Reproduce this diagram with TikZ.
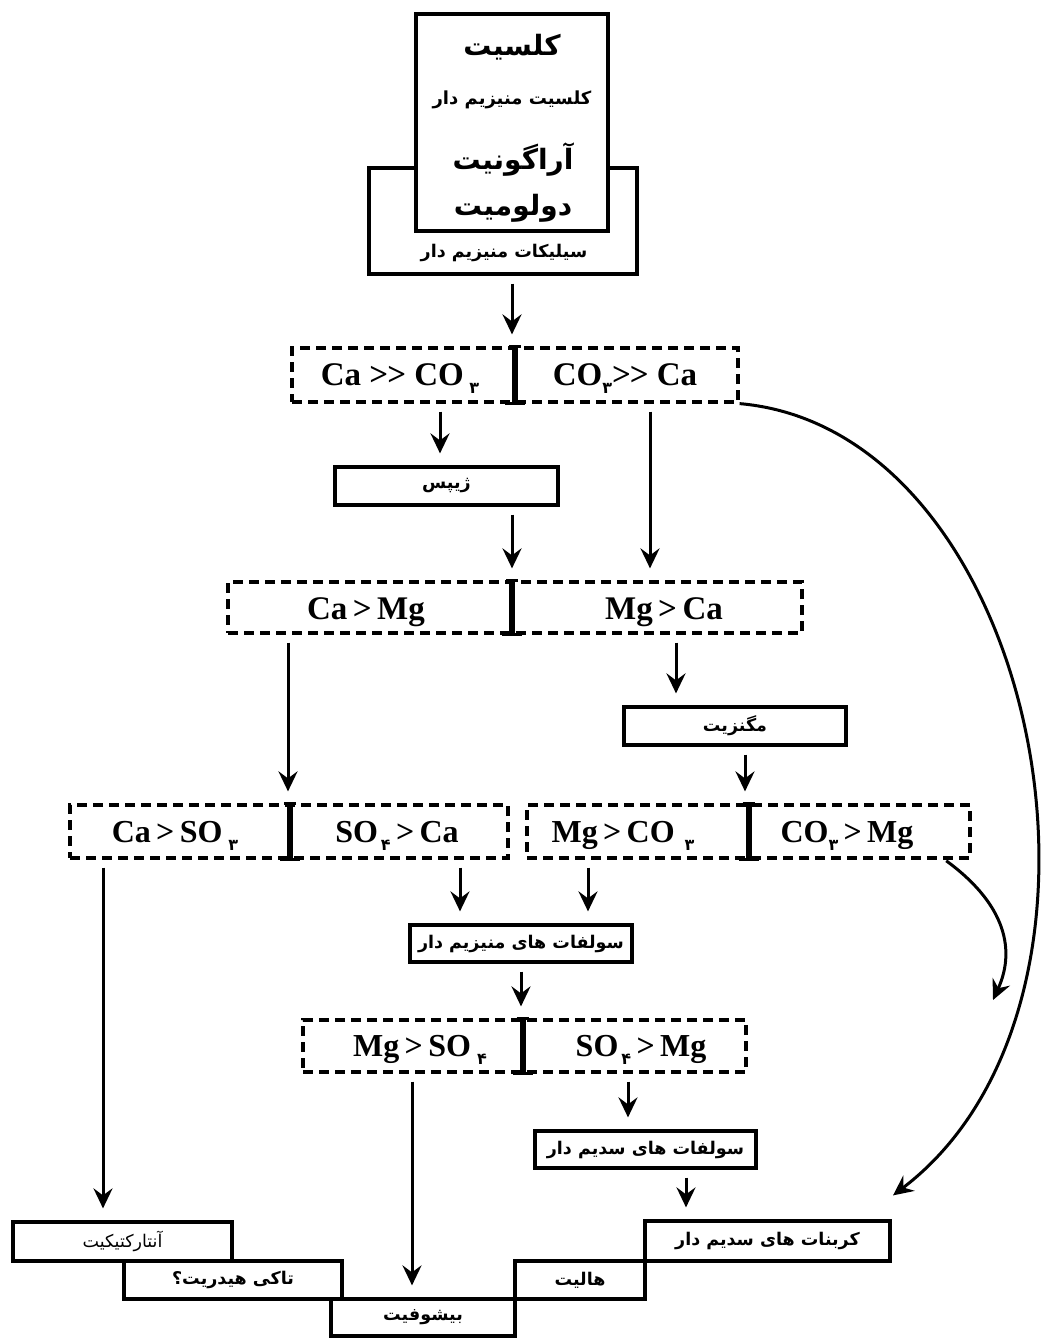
\documentclass[tikz,border=0pt]{standalone}
\usepackage{fontspec}
\setmainfont{Liberation Serif}
\newfontfamily\fa[Script=Arabic]{DejaVu Sans}
\TeXXeTstate=1
\usetikzlibrary{arrows.meta,calc}
\newcommand{\pdig}[1]{\raisebox{-8pt}{\fa\fontsize{16}{16}\selectfont #1}}
\newcommand{\gtgt}{>\kern-1pt>}
\begin{document}
\begin{tikzpicture}[x=1pt,y=-1pt,
  box/.style={draw, line width=3.2pt, inner sep=0pt, fill=white},
  dbox/.style={draw, dash pattern=on 10pt off 6pt, line width=3.2pt, inner sep=0pt},
  arr/.style={-{Stealth[length=20pt,width=19pt,inset=7pt]}, line width=3pt, shorten <=8pt, shorten >=12pt},
  divbar/.style={line width=6pt},
  divser/.style={line width=3pt},
  fml/.style={inner sep=0pt, anchor=base, font=\bfseries\fontsize{32}{32}\selectfont},
  fab/.style={inner sep=0pt, font=\fa\bfseries\fontsize{17.5}{20}\selectfont},
  fabig/.style={inner sep=0pt, font=\fa\bfseries\fontsize{28}{30}\selectfont},
  fareg/.style={inner sep=0pt, font=\fa\fontsize{17.5}{20}\selectfont}]
\useasboundingbox (0,0) rectangle (1043,1338);
\fill[white] (0,0) rectangle (1043,1338);

% top group
\node[box, minimum width=268pt, minimum height=106pt] (sil) at (503,221) {};
\node[fab] (siltxt) at (504,253) {\beginR سیلیکات منیزیم دار\endR};
\node[box, minimum width=192pt, minimum height=217pt] (top) at (512,122.5) {};
\node[fabig] (t1) at (512,47) {\beginR کلسیت\endR};
\node[fab, font=\fa\bfseries\fontsize{18}{20}\selectfont] (t2) at (512,100) {\beginR کلسیت منیزیم دار\endR};
\node[fabig] (t3) at (513,160) {\beginR آراگونیت\endR};
\node[fabig] (t4) at (513,208) {\beginR دولومیت\endR};

% row 1
\node[dbox, minimum width=446pt, minimum height=54pt] (r1) at (515,375) {};
\node[fml, font=\bfseries\fontsize{33}{33}\selectfont] (r1a) at (400,385) {Ca \gtgt\ CO\,\pdig{۳}};
\node[fml, font=\bfseries\fontsize{33}{33}\selectfont] (r1b) at (625,385) {CO\pdig{۳}\gtgt\ Ca};
\draw[divbar] (r1.north) -- (r1.south);
\draw[divser] ([xshift=-6pt]r1.north) -- ([xshift=6pt]r1.north);
\draw[divser] ([xshift=-10pt]r1.south) -- ([xshift=10pt]r1.south);

\node[box, minimum width=223pt, minimum height=38pt] (gyp) at (446.5,486) {};
\node[fab] (gyptxt) at (446.5,486) {\beginR ژیپس\endR};

% row 2
\node[dbox, minimum width=574pt, minimum height=51pt] (r2) at (515,607.5) {};
\node[fml, font=\bfseries\fontsize{33}{33}\selectfont] (r2a) at (366,619) {Ca\,{}>\,{}Mg};
\node[fml, font=\bfseries\fontsize{33}{33}\selectfont] (r2b) at (664,619) {Mg\,{}>\,{}Ca};
\draw[divbar] ([xshift=-3pt]r2.north) -- ([xshift=-3pt]r2.south);
\draw[divser] ([xshift=-9pt]r2.north) -- ([xshift=3pt]r2.north);
\draw[divser] ([xshift=-13pt]r2.south) -- ([xshift=7pt]r2.south);

\node[box, minimum width=222pt, minimum height=38pt] (mag) at (735,726) {};
\node[fab] (magtxt) at (735,726) {\beginR مگنزیت\endR};

% row 3
\node[dbox, minimum width=438pt, minimum height=53pt] (r3l) at (289,831.5) {};
\node[fml] (r3a) at (175,842) {Ca\,{}>\,{}SO\kern6pt\pdig{۳}};
\node[fml] (r3b) at (397,842) {SO\kern3pt\pdig{۴}\,{}>\,{}Ca};
\draw[divbar] ([xshift=1pt]r3l.north) -- ([xshift=1pt]r3l.south);
\draw[divser] ([xshift=-5pt]r3l.north) -- ([xshift=7pt]r3l.north);
\draw[divser] ([xshift=-9pt]r3l.south) -- ([xshift=11pt]r3l.south);

\node[dbox, minimum width=443pt, minimum height=53pt] (r3r) at (748.5,831.5) {};
\node[fml] (r3c) at (623,842) {Mg\,{}>\,{}CO\kern10pt\pdig{۳}};
\node[fml] (r3d) at (847,842) {CO\pdig{۳}\,{}>\,{}Mg};
\draw[divbar] (r3r.north) -- (r3r.south);
\draw[divser] ([xshift=-6pt]r3r.north) -- ([xshift=6pt]r3r.north);
\draw[divser] ([xshift=-10pt]r3r.south) -- ([xshift=10pt]r3r.south);

\node[box, minimum width=222pt, minimum height=37pt] (mgs) at (521,943.5) {};
\node[fab] (mgstxt) at (521,943.5) {\beginR سولفات های منیزیم دار\endR};

% row 4
\node[dbox, minimum width=443pt, minimum height=52pt] (r4) at (524.5,1046) {};
\node[fml] (r4a) at (420,1056) {Mg\,{}>\,{}SO\kern6pt\pdig{۴}};
\node[fml] (r4b) at (641,1056) {SO\kern3pt\pdig{۴}\,{}>\,{}Mg};
\draw[divbar] ([xshift=-2pt]r4.north) -- ([xshift=-2pt]r4.south);
\draw[divser] ([xshift=-8pt]r4.north) -- ([xshift=4pt]r4.north);
\draw[divser] ([xshift=-12pt]r4.south) -- ([xshift=8pt]r4.south);

\node[box, minimum width=221pt, minimum height=37pt] (nas) at (645.5,1149.5) {};
\node[fab] (nastxt) at (645.5,1149.5) {\beginR سولفات های سدیم دار\endR};

% bottom staircase
\node[box, minimum width=219pt, minimum height=39pt] (ant) at (122.5,1241.5) {};
\node[fareg] (anttxt) at (122.5,1241.5) {\beginR آنتارکتیکیت\endR};
\node[box, minimum width=218pt, minimum height=38pt] (tak) at (233,1280) {};
\node[fab] (taktxt) at (233,1280) {\beginR تاکی هیدریت؟\endR};
\node[box, minimum width=184pt, minimum height=37pt] (bish) at (423,1317.5) {};
\node[fab] (bishtxt) at (423,1317.5) {\beginR بیشوفیت\endR};
\node[box, minimum width=130pt, minimum height=38pt] (hal) at (580,1280) {};
\node[fab] (haltxt) at (580,1280) {\beginR هالیت\endR};
\node[box, minimum width=245pt, minimum height=40pt] (nac) at (767.5,1241) {};
\node[fab] (nactxt) at (767.5,1241) {\beginR کربنات های سدیم دار\endR};

% connectors
\draw[arr] ([xshift=9pt]sil.south) -- ([xshift=9pt]sil.south |- r1.north);
\draw[arr] ([xshift=-75pt]r1.south) -- ([xshift=-75pt]r1.south |- gyp.north);
\draw[arr] ([xshift=135pt]r1.south) -- ([xshift=135pt]r1.south |- r2.north);
\draw[arr] ([xshift=65.5pt]gyp.south) -- ([xshift=65.5pt]gyp.south |- r2.north);
\draw[arr] ([xshift=-227pt]r2.south) -- ([xshift=-227pt]r2.south |- r3l.north);
\draw[arr] ([xshift=161pt]r2.south) -- ([xshift=161pt]r2.south |- mag.north);
\draw[arr] ([xshift=10pt]mag.south) -- ([xshift=10pt]mag.south |- r3r.north);
\draw[arr] ([xshift=-186pt]r3l.south) -- ([xshift=-186pt]r3l.south |- ant.north);
\draw[arr] ([xshift=171pt]r3l.south) -- ([xshift=171pt]r3l.south |- mgs.north);
\draw[arr] ([xshift=-160.5pt]r3r.south) -- ([xshift=-160.5pt]r3r.south |- mgs.north);
\draw[arr] (mgs.south) -- (mgs.south |- r4.north);
\draw[arr] ([xshift=-112.5pt]r4.south) -- ([xshift=-112.5pt]r4.south |- bish.north);
\draw[arr] ([xshift=103.5pt]r4.south) -- ([xshift=103.5pt]r4.south |- nas.north);
\draw[arr] ([xshift=40.5pt]nas.south) -- ([xshift=40.5pt]nas.south |- nac.north);

\coordinate (free) at (993,1000);
\draw[arr, shorten <=2pt, shorten >=0pt] ([xshift=-27pt]r3r.south east) .. controls (1000,900) and (1018,945) .. (free);
\draw[arr, shorten <=0pt, shorten >=0pt] (r1.south east) .. controls (1040,430) and (1150,1000) .. ([shift={(125.5pt,24pt)}]nac.north);
\end{tikzpicture}
\end{document}
